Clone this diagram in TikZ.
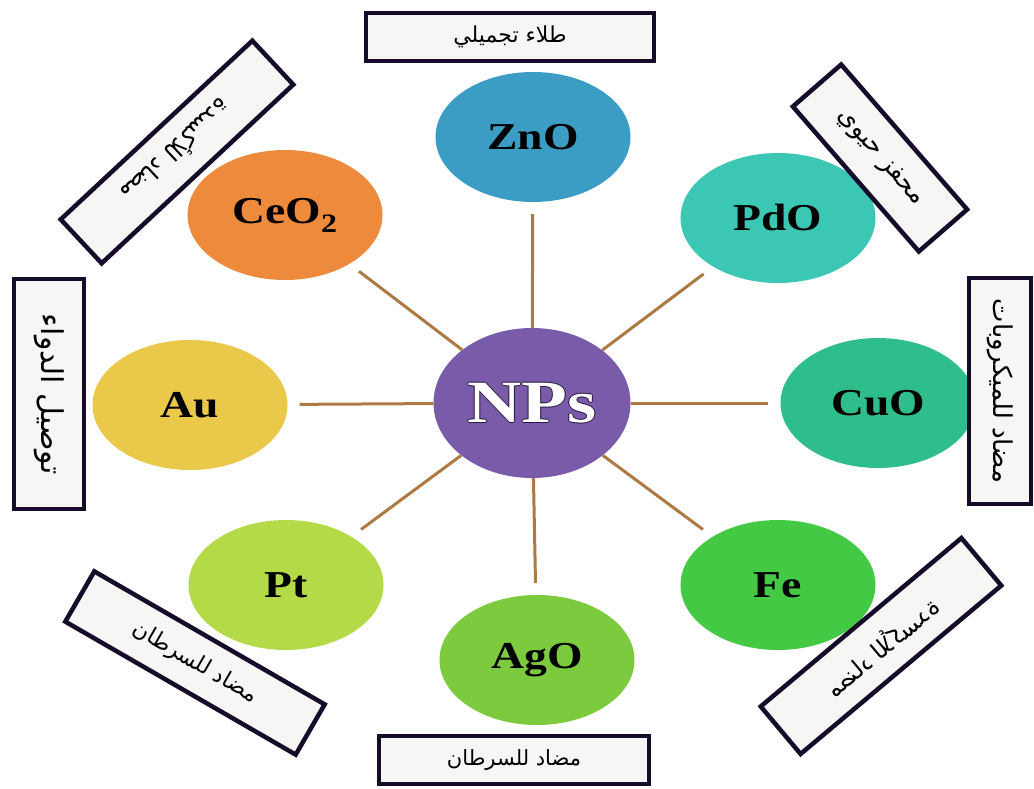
\documentclass[tikz,border=0pt]{standalone}
\usepackage{fontspec}
\usepackage{graphicx}
\setmainfont{Liberation Serif}
\newfontfamily\arabicfont[Script=Arabic]{DejaVu Sans}
\TeXXeTstate=1
\usetikzlibrary{shapes.geometric}
\definecolor{zncol}{HTML}{3C9DC4}
\definecolor{cecol}{HTML}{EE8A3C}
\definecolor{pdcol}{HTML}{3CC6B4}
\definecolor{aucol}{HTML}{EAC84A}
\definecolor{npcol}{HTML}{7A5BAA}
\definecolor{cucol}{HTML}{2DBE8C}
\definecolor{ptcol}{HTML}{B4DA48}
\definecolor{agcol}{HTML}{7CCB3E}
\definecolor{fecol}{HTML}{44C944}
\definecolor{linkcol}{HTML}{AE7A44}
\definecolor{boxdark}{HTML}{160C2A}
\definecolor{boxfill}{HTML}{F6F6F4}
\definecolor{npsoutline}{HTML}{2A1A40}
\newcommand\elemtext[1]{\fontsize{38}{38}\selectfont\bfseries\scalebox{1.2}[1]{#1}}
\newcommand\arsize[1]{\fontsize{#1}{#1}\selectfont\arabicfont}
\newcommand\npsword{\fontsize{60}{60}\selectfont\bfseries\scalebox{1.25}[1]{NPs}}
\begin{document}
\begin{tikzpicture}[x=1pt,y=-1pt,
  ball/.style={ellipse, minimum width=195pt, minimum height=130pt, inner sep=0pt},
  link/.style={draw=linkcol, line width=3pt, shorten >=12pt},
  labbox/.style={draw=boxdark, line width=4.5pt, fill=boxfill, inner sep=0pt, text=black}]
\useasboundingbox[fill=white] (0,0) rectangle (1034,789);
% circles
\node[ball, fill=npcol, minimum width=197pt, minimum height=150pt] (nps) at (532,403) {%
  \rlap{\hspace{-1.3pt}\textcolor{npsoutline}{\npsword}}%
  \rlap{\hspace{1.3pt}\textcolor{npsoutline}{\npsword}}%
  \rlap{\raisebox{1.3pt}{\textcolor{npsoutline}{\npsword}}}%
  \rlap{\raisebox{-1.3pt}{\textcolor{npsoutline}{\npsword}}}%
  \textcolor{white}{\npsword}};
\node[ball, fill=zncol] (zno) at (533,137) {\elemtext{ZnO}};
\node[ball, fill=cecol] (ceo) at (285,215) {\elemtext{CeO\textsubscript{2}}};
\node[ball, fill=pdcol] (pdo) at (778,218) {\elemtext{PdO}};
\node[ball, fill=aucol] (au) at (190,405) {\elemtext{Au}};
\node[ball, fill=cucol] (cuo) at (878,403) {\elemtext{CuO}};
\node[ball, fill=ptcol] (pt) at (286,585) {\elemtext{Pt}};
\node[ball, fill=agcol] (ago) at (537,660) {\elemtext{AgO}};
\node[ball, fill=fecol] (fe) at (778,585) {\elemtext{Fe}};
% connectors
\draw[link] (nps) -- (zno);
\draw[link] (nps) -- (ceo);
\draw[link] (nps) -- (pdo);
\draw[link] (nps) -- (au);
\draw[link] (nps) -- (cuo);
\draw[link] (nps) -- (pt);
\draw[link] (nps) -- (ago);
\draw[link] (nps) -- (fe);
% label boxes
\node[labbox, minimum width=288pt, minimum height=48pt] (topbox) at (510,37) {\arsize{22}\beginR طلاء تجميلي\endR};
\node[labbox, minimum width=270pt, minimum height=48pt] (botbox) at (514,760) {\arsize{21}\beginR مضاد للسرطان\endR};
\node[labbox, minimum width=230pt, minimum height=70pt, rotate=-90] (leftbox) at (49,394) {\arsize{30}\beginR توصيل الدواء\endR};
\node[labbox, minimum width=226pt, minimum height=62pt, rotate=-90] (rightbox) at (1000,391) {\arsize{26}\beginR مضاد للميكروبات\endR};
\node[labbox, minimum width=262pt, minimum height=60pt, rotate=223] (tlbox) at (177,152) {\arsize{24}\beginR مضاد للأكسدة\endR};
\node[labbox, minimum width=192pt, minimum height=64pt, rotate=-49] (trbox) at (880,158) {\arsize{25}\beginR محفز حيوي\endR};
\node[labbox, minimum width=266pt, minimum height=58pt, rotate=-30] (blbox) at (195,663) {\arsize{22}\beginR مضاد للسرطان\endR};
\node[labbox, minimum width=262pt, minimum height=62pt, rotate=40] (brbox) at (881,646) {\reflectbox{\arsize{24}\beginR مضاد للأكسدة\endR}};
\end{tikzpicture}
\end{document}
